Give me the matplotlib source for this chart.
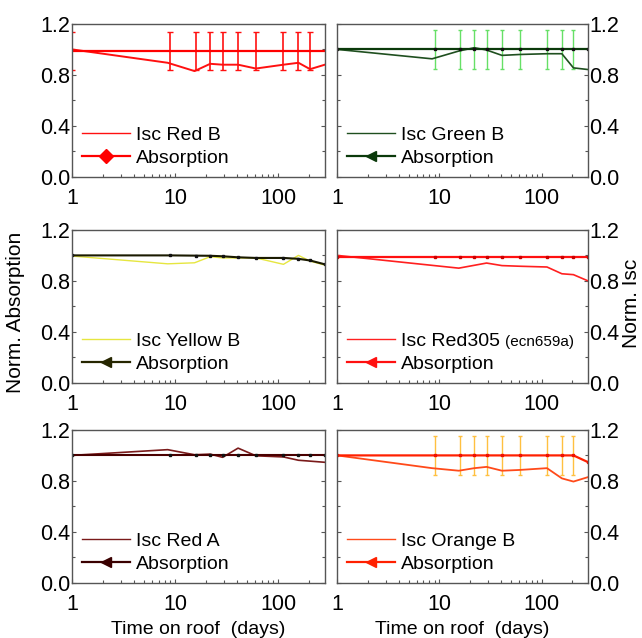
import matplotlib.pyplot as plt
from matplotlib.lines import Line2D
from matplotlib.ticker import MultipleLocator, FixedLocator, NullFormatter
import numpy as np

plt.rcParams['font.family'] = ['Liberation Sans', 'DejaVu Sans']

# days on roof
days_abs = [1, 9, 16, 22, 29, 41, 61, 113, 158, 205, 285]
days_err = [9, 16, 22, 29, 41, 61, 113, 158, 205]
days_isc = [1, 8.5, 15.5, 22, 29, 41, 61, 113, 158, 205, 285]
days_isc_305 = [1, 15.5, 29, 41, 61, 113, 158, 205, 285]
abs_err = 0.15

# Red B
isc_red_b = [1.0, 0.895, 0.83, 0.887, 0.88, 0.88, 0.85, 0.88, 0.895, 0.845, 0.88]
abs_red_b = [0.99, 0.99, 0.99, 0.99, 0.99, 0.99, 0.99, 0.99, 0.99, 0.99, 0.99]
# Green B
isc_green_b = [1.0, 0.926, 0.987, 1.013, 0.995, 0.953, 0.96, 0.966, 0.966, 0.855, 0.842]
abs_green_b = [1.0, 1.0, 1.0, 1.0, 1.0, 1.0, 1.0, 1.0, 1.0, 1.0, 1.0]
# Yellow B
isc_yellow_b = [0.995, 0.934, 0.942, 0.99, 0.98, 0.98, 0.98, 0.93, 1.0, 0.955, 0.924]
abs_yellow_b = [1.0, 1.0, 0.998, 0.997, 0.993, 0.985, 0.98, 0.98, 0.973, 0.96, 0.93]
# Red305
isc_red305 = [1.0, 0.90, 0.94, 0.92, 0.915, 0.909, 0.856, 0.849, 0.80]
abs_red305 = [0.99, 0.99, 0.99, 0.99, 0.99, 0.99, 0.99, 0.99, 0.99, 0.99, 0.99]
# Red A
isc_red_a = [1.0, 1.045, 1.005, 1.01, 0.985, 1.057, 0.997, 0.988, 0.962, 0.955, 0.946]
abs_red_a = [1.0, 1.0, 1.0, 1.0, 1.0, 1.0, 1.0, 1.0, 1.0, 1.0, 1.0]
# Orange B
isc_orange_b = [1.0, 0.90, 0.88, 0.90, 0.91, 0.88, 0.886, 0.90, 0.82, 0.795, 0.83]
abs_orange_b = [1.0, 1.0, 1.0, 1.0, 1.0, 1.0, 1.0, 1.0, 1.0, 1.0, 0.947]

fig = plt.figure(figsize=(6.42, 6.38), dpi=100)

left_x, right_x = 0.112, 0.525
w_left, w_right = 0.394, 0.391
rows = [0.7226, 0.3997, 0.0862]
h = 0.240


def style_axes(ax, right=False, bottom_label=False):
    ax.set_xscale('log')
    ax.set_xlim(1, 285)
    ax.set_ylim(0, 1.2)
    ax.yaxis.set_major_locator(FixedLocator([0.0, 0.4, 0.8, 1.2]))
    ax.yaxis.set_minor_locator(MultipleLocator(0.2))
    ax.set_yticklabels(['0.0', '0.4', '0.8', '1.2'])
    ax.xaxis.set_major_locator(FixedLocator([1, 10, 100]))
    ax.set_xticklabels(['1', '10', '100'])
    ax.xaxis.set_minor_formatter(NullFormatter())
    for s in ax.spines.values():
        s.set_color('#555555')
        s.set_linewidth(1.0)
    ax.tick_params(which='both', direction='in', colors='#555555',
                   labelcolor='black', labelsize=15.5, width=0.8)
    ax.tick_params(which='major', length=3)
    ax.tick_params(which='minor', length=2)
    ax.tick_params(axis='x', which='both', top=False, bottom=True, pad=8)
    ax.tick_params(axis='y', which='both', left=True, right=True, pad=1,
                   labelleft=not right, labelright=right)
    if bottom_label:
        ax.set_xlabel('Time on roof  (days)', fontsize=14, labelpad=4)


def add_legend(ax, isc_label, isc_color, abs_color, marker, abs_lw=1.6):
    handles = [Line2D([], [], color=isc_color, lw=1.0),
               Line2D([], [], color=abs_color, lw=abs_lw, marker=marker,
                      markersize=7, markeredgecolor=abs_color)]
    ax.legend(handles, [isc_label, 'Absorption'], loc='lower left',
              frameon=False, fontsize=14, handlelength=2.5,
              handletextpad=0.3, labelspacing=0.3, borderaxespad=0.1,
              bbox_to_anchor=(0.0, 0.0))


# Red B
ax = fig.add_axes([left_x, rows[0], w_left, h])
ax.errorbar([1] + days_err, [0.99] * (len(days_err) + 1), yerr=abs_err,
            fmt='none', ecolor='#ff1010', elinewidth=1.2, capsize=2.5)
ax.plot(days_isc, isc_red_b, color='#ff1010', lw=1.4)
ax.plot(days_abs, abs_red_b, color='#ff0000', lw=1.6)
style_axes(ax)
add_legend(ax, 'Isc Red B', '#ff1010', '#ff0000', 'D')

# Green B
ax = fig.add_axes([right_x, rows[0], w_right, h])
ax.errorbar(days_err, abs_green_b[1:10], yerr=abs_err, fmt='none',
            ecolor='#66e066', elinewidth=1.0, capsize=1.5)
ax.plot(days_isc, isc_green_b, color='#1f4f1f', lw=1.2)
ax.plot(days_abs, abs_green_b, color='#0b3a0b', lw=1.6, marker='s',
        markersize=2, markerfacecolor='#111111', markeredgecolor='#111111')
style_axes(ax, right=True)
add_legend(ax, 'Isc Green B', '#1f4f1f', '#0b3a0b', '<')

# Yellow B
ax = fig.add_axes([left_x, rows[1], w_left, h])
ax.plot(days_isc, isc_yellow_b, color='#e6e640', lw=1.0)
ax.plot(days_abs, abs_yellow_b, color='#1a1a00', lw=1.5, marker='s',
        markersize=2, markerfacecolor='#111111', markeredgecolor='#111111')
style_axes(ax)
add_legend(ax, 'Isc Yellow B', '#e6e640', '#262600', '<')

# Red305
ax = fig.add_axes([right_x, rows[1], w_right, h])
ax.plot(days_isc_305, isc_red305, color='#ff2020', lw=1.2)
ax.plot(days_abs, abs_red305, color='#ff1010', lw=1.6, marker='s',
        markersize=2, markerfacecolor='#cc0000', markeredgecolor='#cc0000')
style_axes(ax, right=True)
add_legend(ax, 'Isc Red305', '#ff2020', '#ff1010', '<')
ax.text(0.67, 0.27, '(ecn659a)', transform=ax.transAxes, fontsize=11,
        va='center', ha='left')

# Red A
ax = fig.add_axes([left_x, rows[2], w_left, h])
ax.plot(days_isc, isc_red_a, color='#7a1a1a', lw=1.2)
ax.plot(days_abs, abs_red_a, color='#4a0000', lw=1.5, marker='s',
        markersize=2, markerfacecolor='#111111', markeredgecolor='#111111')
style_axes(ax, bottom_label=True)
add_legend(ax, 'Isc Red A', '#7a1a1a', '#3a0000', '<')

# Orange B
ax = fig.add_axes([right_x, rows[2], w_right, h])
ax.errorbar(days_err, abs_orange_b[1:10], yerr=abs_err, fmt='none',
            ecolor='#ffc040', elinewidth=1.0, capsize=1.5)
ax.plot(days_isc, isc_orange_b, color='#ff4a1a', lw=1.3)
ax.plot(days_abs, abs_orange_b, color='#ff2000', lw=1.6, marker='s',
        markersize=2, markerfacecolor='#ee1000', markeredgecolor='#ee1000')
style_axes(ax, right=True, bottom_label=True)
add_legend(ax, 'Isc Orange B', '#ff4a1a', '#ff2000', '<')

fig.text(0.024, 0.51, 'Norm. Absorption', rotation=90, fontsize=15,
         ha='center', va='center')
fig.text(0.984, 0.525, 'Norm. Isc', rotation=90, fontsize=15,
         ha='center', va='center')

fig.savefig('out.png', dpi=100)
